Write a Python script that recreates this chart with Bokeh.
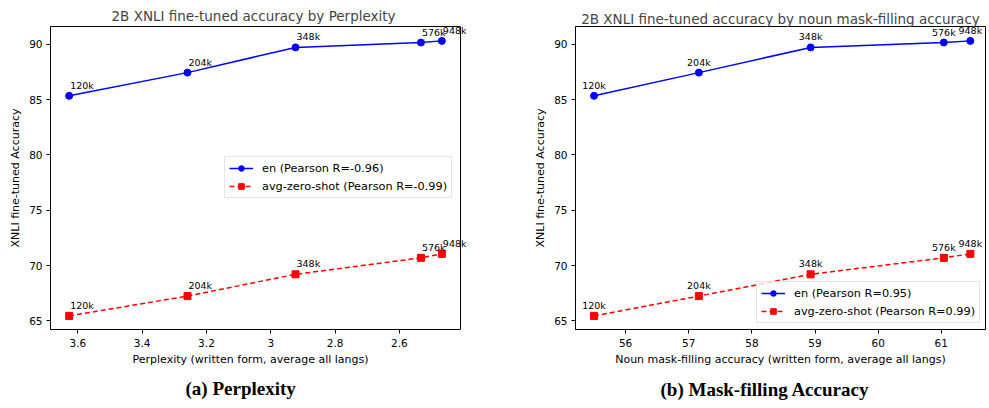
from bokeh.plotting import figure
from bokeh.models import (Range1d, ColumnDataSource, LabelSet, Legend, LegendItem, FixedTicker,
                          Title, LinearAxis, Span)
from bokeh.core.properties import value
from bokeh.layouts import row
from bokeh.embed import file_html
from bokeh.resources import INLINE

checkpoints = ["120k", "204k", "348k", "576k", "948k"]
perplexity = [3.627, 3.259, 2.923, 2.533, 2.468]
mask_filling = [55.50, 57.16, 58.93, 61.04, 61.46]
en_acc = [85.35, 87.45, 89.73, 90.17, 90.32]
zero_shot_acc = [65.45, 67.24, 69.21, 70.70, 71.06]

y_ticks = [65, 70, 75, 80, 85, 90]
ppl_ticks = [2.6, 2.8, 3.0, 3.2, 3.4, 3.6]
mf_ticks = [56, 57, 58, 59, 60, 61]

# axis limits
ppl_lim = (3.685, 2.410)
mf_lim = (55.206, 61.70)
acc_lim = (64.22, 91.62)

FONT = "DejaVu Sans"
H = 407
BB = 75


def style_axis(ax):
    ax.axis_line_color = "black"
    ax.major_tick_line_color = "black"
    ax.minor_tick_line_color = None
    ax.major_tick_out = 4
    ax.major_tick_in = 0
    ax.major_label_text_font = FONT
    ax.major_label_text_font_size = "10.5px"
    ax.major_label_text_color = "black"
    ax.axis_label_text_font = FONT
    ax.axis_label_text_font_size = "11px"
    ax.axis_label_text_font_style = "normal"
    ax.axis_label_text_color = "black"


def add_series(p, xs, ann_align, ann_xoff, en_label, zs_label, legend_loc):
    src = ColumnDataSource(dict(x=xs, en=en_acc, zs=zero_shot_acc, lab=checkpoints))
    l1 = p.line("x", "en", source=src, line_color="#0000ff", line_width=1.5)
    m1 = p.scatter("x", "en", source=src, marker="circle", size=7, fill_color="#0000ff",
                   line_color="#0000ff")
    l2 = p.line("x", "zs", source=src, line_color="#ff0000", line_width=1.5, line_dash="5 3")
    m2 = p.scatter("x", "zs", source=src, marker="square", size=7, fill_color="#ff0000",
                   line_color="#ff0000")
    for col in ("en", "zs"):
        p.add_layout(LabelSet(x="x", y=col, text="lab", source=src, x_offset=ann_xoff,
                              y_offset=7, text_align=ann_align, text_baseline="alphabetic",
                              text_font=value(FONT), text_font_size=value("9.5px"),
                              text_color="black"))
    legend = Legend(items=[LegendItem(label=en_label, renderers=[l1, m1]),
                           LegendItem(label=zs_label, renderers=[l2, m2])],
                    location=legend_loc)
    legend.label_text_font = FONT
    legend.label_text_font_size = "11.3px"
    legend.label_text_color = "black"
    legend.glyph_width = 24
    legend.glyph_height = 14
    legend.label_height = 14
    legend.label_standoff = 9
    legend.spacing = 4
    legend.padding = 4
    legend.margin = 0
    legend.border_line_color = "#cccccc"
    legend.border_line_width = 1
    legend.background_fill_alpha = 0.8
    p.add_layout(legend)


def caption_title(text, offset, standoff):
    return Title(text=text, align="left", offset=offset, standoff=standoff,
                 text_font="Liberation Serif", text_font_style="bold",
                 text_font_size="19px", text_color="black")


# ---------- (a) Perplexity: frame extended to the right so the "948k" labels are not cut;
# the visible box ends at ppl_lim[1]
frame_w1 = 435
box_w1 = 410
x_end1 = ppl_lim[0] - (ppl_lim[0] - ppl_lim[1]) * frame_w1 / box_w1
p1 = figure(width=495, height=H, x_range=Range1d(ppl_lim[0], x_end1),
            y_range=Range1d(*acc_lim), output_backend="svg", toolbar_location=None,
            min_border_left=50, min_border_right=495 - 50 - frame_w1, min_border_top=26,
            min_border_bottom=BB)
p1.title.text = "2B XNLI fine-tuned accuracy by Perplexity"
p1.title.text_font = FONT
p1.title.text_font_size = "13.5px"
p1.title.text_font_style = "normal"
p1.title.align = "left"
p1.title.offset = 61
p1.title.standoff = 5
p1.grid.visible = False
p1.outline_line_color = None
style_axis(p1.xaxis[0])
style_axis(p1.yaxis[0])
p1.yaxis[0].major_label_standoff = 4
p1.yaxis[0].axis_label_standoff = 4
p1.yaxis[0].axis_label = "XNLI fine-tuned Accuracy"
p1.yaxis[0].ticker = FixedTicker(ticks=y_ticks)
p1.xaxis[0].major_label_standoff = 5
p1.xaxis[0].ticker = FixedTicker(ticks=ppl_ticks)
p1.xaxis[0].bounds = (min(ppl_lim), max(ppl_lim))
top_axis = LinearAxis(ticker=FixedTicker(ticks=[]), bounds=(min(ppl_lim), max(ppl_lim)),
                      major_tick_out=0, major_tick_in=0, minor_tick_out=0, minor_tick_in=0,
                      major_label_standoff=0, major_label_text_font_size="0px",
                      axis_line_color="black")
p1.add_layout(top_axis, "above")
p1.add_layout(Span(location=ppl_lim[1], dimension="height", line_color="black", line_width=1))
add_series(p1, perplexity, "left", 1, "en (Pearson R=-0.96)",
           "avg-zero-shot (Pearson R=-0.99)", (174, 131))
p1.add_layout(Title(text="Perplexity (written form, average all langs)", align="left",
                    offset=82, standoff=2, text_font=FONT, text_font_size="11px",
                    text_font_style="normal", text_color="black"), "below")
p1.add_layout(caption_title("(a) Perplexity", 135, 18), "below")

# ---------- (b) Mask-filling accuracy
p2 = figure(width=492, height=H, x_range=Range1d(*mf_lim), y_range=Range1d(*acc_lim),
            output_backend="svg", toolbar_location=None,
            min_border_left=80, min_border_right=2, min_border_top=21, min_border_bottom=BB)
p2.title.text = "2B XNLI fine-tuned accuracy by noun mask-filling accuracy"
p2.title.text_font = FONT
p2.title.text_font_size = "13.5px"
p2.title.text_font_style = "normal"
p2.title.align = "center"
p2.title.standoff = 0
p2.grid.visible = False
p2.outline_line_color = "black"
p2.outline_line_alpha = 1
p2.outline_line_width = 1
style_axis(p2.xaxis[0])
style_axis(p2.yaxis[0])
p2.yaxis[0].major_label_standoff = 4
p2.yaxis[0].axis_label_standoff = 4
p2.yaxis[0].axis_label = "XNLI fine-tuned Accuracy"
p2.yaxis[0].ticker = FixedTicker(ticks=y_ticks)
p2.xaxis[0].major_label_standoff = 5
p2.xaxis[0].axis_label_standoff = 3
p2.xaxis[0].axis_label = "Noun mask-filling accuracy (written form, average all langs)"
p2.xaxis[0].ticker = FixedTicker(ticks=mf_ticks)
add_series(p2, mask_filling, "center", 0, "en (Pearson R=0.95)",
           "avg-zero-shot (Pearson R=0.99)", (181, 6))
p2.add_layout(caption_title("(b) Mask-filling Accuracy", 85, 16), "below")

layout = row(p1, p2)
open("out.html", "w").write(file_html(layout, INLINE))
